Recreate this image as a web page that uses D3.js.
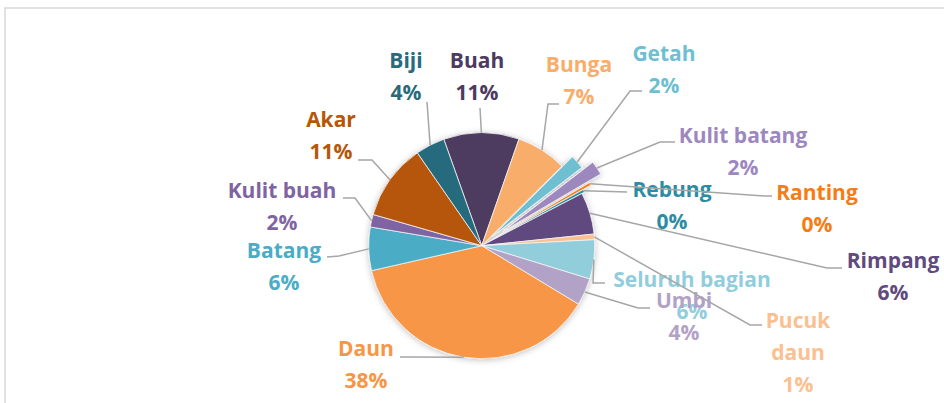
<!DOCTYPE html>
<html>
<head>
<meta charset="utf-8">
<script src="https://cdn.jsdelivr.net/npm/d3@7"></script>
<style>
  body { margin: 0; background: #fff; }
  svg { display: block; }
  text { font-family: "Open Sans", sans-serif; font-weight: 700; font-size: 21px; }
</style>
</head>
<body>
<svg width="944" height="403"></svg>
<script>
// plant part categories, clockwise from Buah
const categories = ["Buah", "Bunga", "Getah", "Kulit batang", "Ranting", "Rebung", "Rimpang",
  "Pucuk daun", "Seluruh bagian", "Umbi", "Daun", "Batang", "Kulit buah", "Akar", "Biji"];
const shares = [10.8, 7.2, 2.0, 2.0, 0.4, 0.4, 6.0, 0.8, 5.6, 3.9, 37.8, 6.2, 1.8, 10.9, 4.2];
const colors = ["#4d3a61", "#f9ad6b", "#6ebfd2", "#9d87bf", "#f67c15", "#2d8ca1", "#604a7e",
  "#fac090", "#92cddc", "#b3a2c7", "#f79646", "#4bacc6", "#8064a2", "#b65708", "#276b7d"];

// layout (label position, leader attach point, explode distance)
const labelAt = {
  "Buah": [477, 68], "Bunga": [579, 72], "Getah": [664, 61], "Kulit batang": [743, 143],
  "Ranting": [817, 200], "Rebung": [672, 197], "Rimpang": [893, 268], "Pucuk daun": [798, 328],
  "Seluruh bagian": [692, 287], "Umbi": [684, 308], "Daun": [366, 356], "Batang": [284, 258],
  "Kulit buah": [282, 198], "Akar": [331, 127], "Biji": [406, 68]
};
const lines = { "Pucuk daun": ["Pucuk", "daun"] };
const attach = {
  "Buah": [[480, 108]], "Biji": [[427, 102]], "Bunga": [[559, 104], [548, 104]],
  "Getah": [[642, 91], [630, 91]], "Kulit batang": [[675, 142], [660, 142]],
  "Ranting": [[772, 196], [764, 196]], "Rebung": [[627, 192]],
  "Rimpang": [[842, 268], [827, 268]], "Pucuk daun": [[762, 325], [750, 325]],
  "Seluruh bagian": [[605, 283], [593, 283]], "Umbi": [[650, 308], [638, 308]],
  "Daun": [[400, 357], [412, 357]], "Batang": [[327, 257], [339, 256]],
  "Kulit buah": [[343, 198], [355, 198]], "Akar": [[358, 160], [372, 160]]
};
const explode = { "Getah": 14, "Kulit batang": 26, "Ranting": 12, "Rebung": 3 };

const svg = d3.select("svg");
const cx = 481.7, cy = 245.7, r = 113;

// chart frame
svg.append("path")
  .attr("d", "M5,403 V8 H944")
  .attr("fill", "none")
  .attr("stroke", "#d9d9d9")
  .attr("stroke-width", 1.5);

const defs = svg.append("defs");
defs.append("filter").attr("id", "shadow")
  .attr("x", "-20%").attr("y", "-20%").attr("width", "140%").attr("height", "140%")
  .append("feDropShadow")
  .attr("dx", 0).attr("dy", 1).attr("stdDeviation", 3)
  .attr("flood-color", "#000").attr("flood-opacity", 0.25);

const data = categories.map((c, i) => ({ name: c, value: shares[i], color: colors[i] }));
const total = d3.sum(shares);
const pct = d3.format(".0%");

const pie = d3.pie().value(d => d.value).sort(null)
  .startAngle(-19.6 * Math.PI / 180)
  .endAngle(-19.6 * Math.PI / 180 + 2 * Math.PI);
const arcs = pie(data);
const arc = d3.arc().innerRadius(0).outerRadius(r);

function offset(a) {
  const e = explode[a.data.name] || 0;
  const m = (a.startAngle + a.endAngle) / 2;
  return [e * Math.sin(m), -e * Math.cos(m)];
}

const g = svg.append("g").attr("transform", `translate(${cx},${cy})`);
g.append("g").attr("filter", "url(#shadow)")
  .selectAll("path")
  .data(arcs)
  .join("path")
  .attr("transform", d => `translate(${offset(d)})`)
  .attr("d", arc)
  .attr("fill", d => d.data.color)
  .attr("stroke", "#f4f4f4")
  .attr("stroke-width", 0.8);

// data labels
const lab = svg.append("g");
arcs.forEach(a => {
  const name = a.data.name;
  const [x, y] = labelAt[name];
  const rows = (lines[name] || [name]).concat(pct(a.data.value / total));
  const t = lab.append("text").attr("text-anchor", "middle").attr("fill", a.data.color);
  rows.forEach((s, i) => t.append("tspan").attr("x", x).attr("y", y + i * 32).text(s));
});

// leader lines
const lead = svg.append("g").attr("fill", "none").attr("stroke", "#a6a6a6").attr("stroke-width", 1.5);
arcs.forEach(a => {
  const m = (a.startAngle + a.endAngle) / 2;
  const [ox, oy] = offset(a);
  const end = [cx + ox + r * Math.sin(m), cy + oy - r * Math.cos(m)];
  const pts = attach[a.data.name].concat([end]);
  lead.append("path").attr("d", d3.line()(pts));
});
</script>
</body>
</html>
